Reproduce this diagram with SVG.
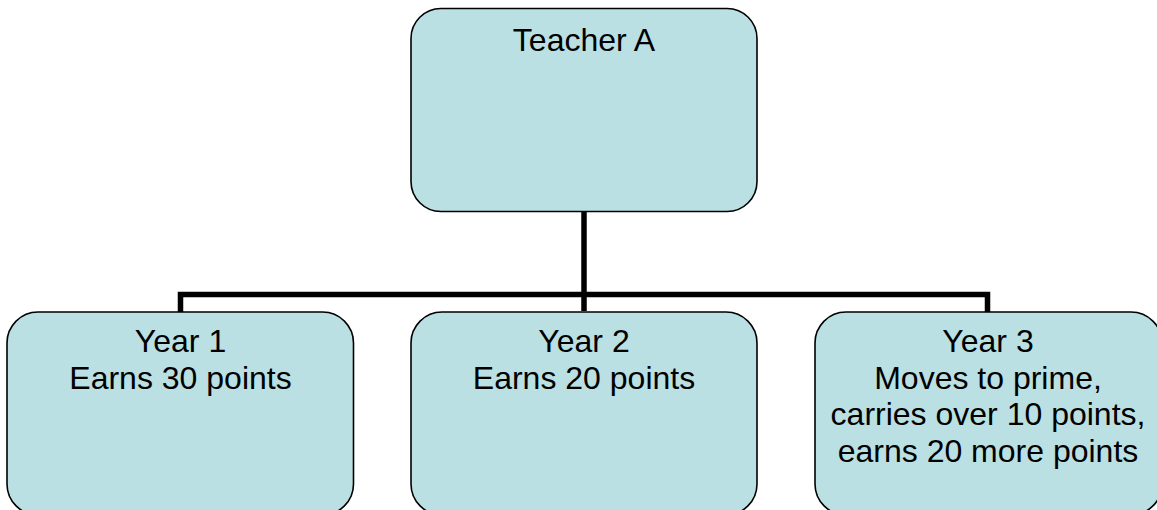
<svg xmlns="http://www.w3.org/2000/svg" width="1157" height="510" viewBox="0 0 1157 510">
<style>
.box{fill:#BAE0E3;stroke:#000;stroke-width:1.6}
.t{font-family:"Liberation Sans",Arial,sans-serif;font-size:32px;fill:#000;text-anchor:middle}
.c{fill:none;stroke:#000;stroke-width:5.5;stroke-linejoin:miter;stroke-linecap:butt}
</style>
<rect width="1157" height="510" fill="#fff"/>
<g id="connectors">
<path class="c" d="M584 211 V311"/>
<path class="c" d="M180.5 312 V294.5 H987.5 V312"/>
</g>
<g id="teacherA">
<rect class="box" x="411" y="8.5" width="346" height="203" rx="30" ry="30"/>
<text class="t" x="584" y="51">Teacher A</text>
</g>
<g id="year1">
<rect class="box" x="7" y="312" width="346.5" height="203" rx="31" ry="31"/>
<text class="t" x="180.5" y="352">Year 1</text>
<text class="t" x="180.5" y="388.5">Earns 30 points</text>
</g>
<g id="year2">
<rect class="box" x="411" y="312" width="346" height="203" rx="31" ry="31"/>
<text class="t" x="584" y="352">Year 2</text>
<text class="t" x="584" y="388.5">Earns 20 points</text>
</g>
<g id="year3">
<rect class="box" x="815" y="312" width="347" height="203" rx="31" ry="31"/>
<text class="t" x="988" y="352">Year 3</text>
<text class="t" x="988" y="388.5">Moves to prime,</text>
<text class="t" x="988" y="425">carries over 10 points,</text>
<text class="t" x="988" y="461.5">earns 20 more points</text>
</g>
</svg>
